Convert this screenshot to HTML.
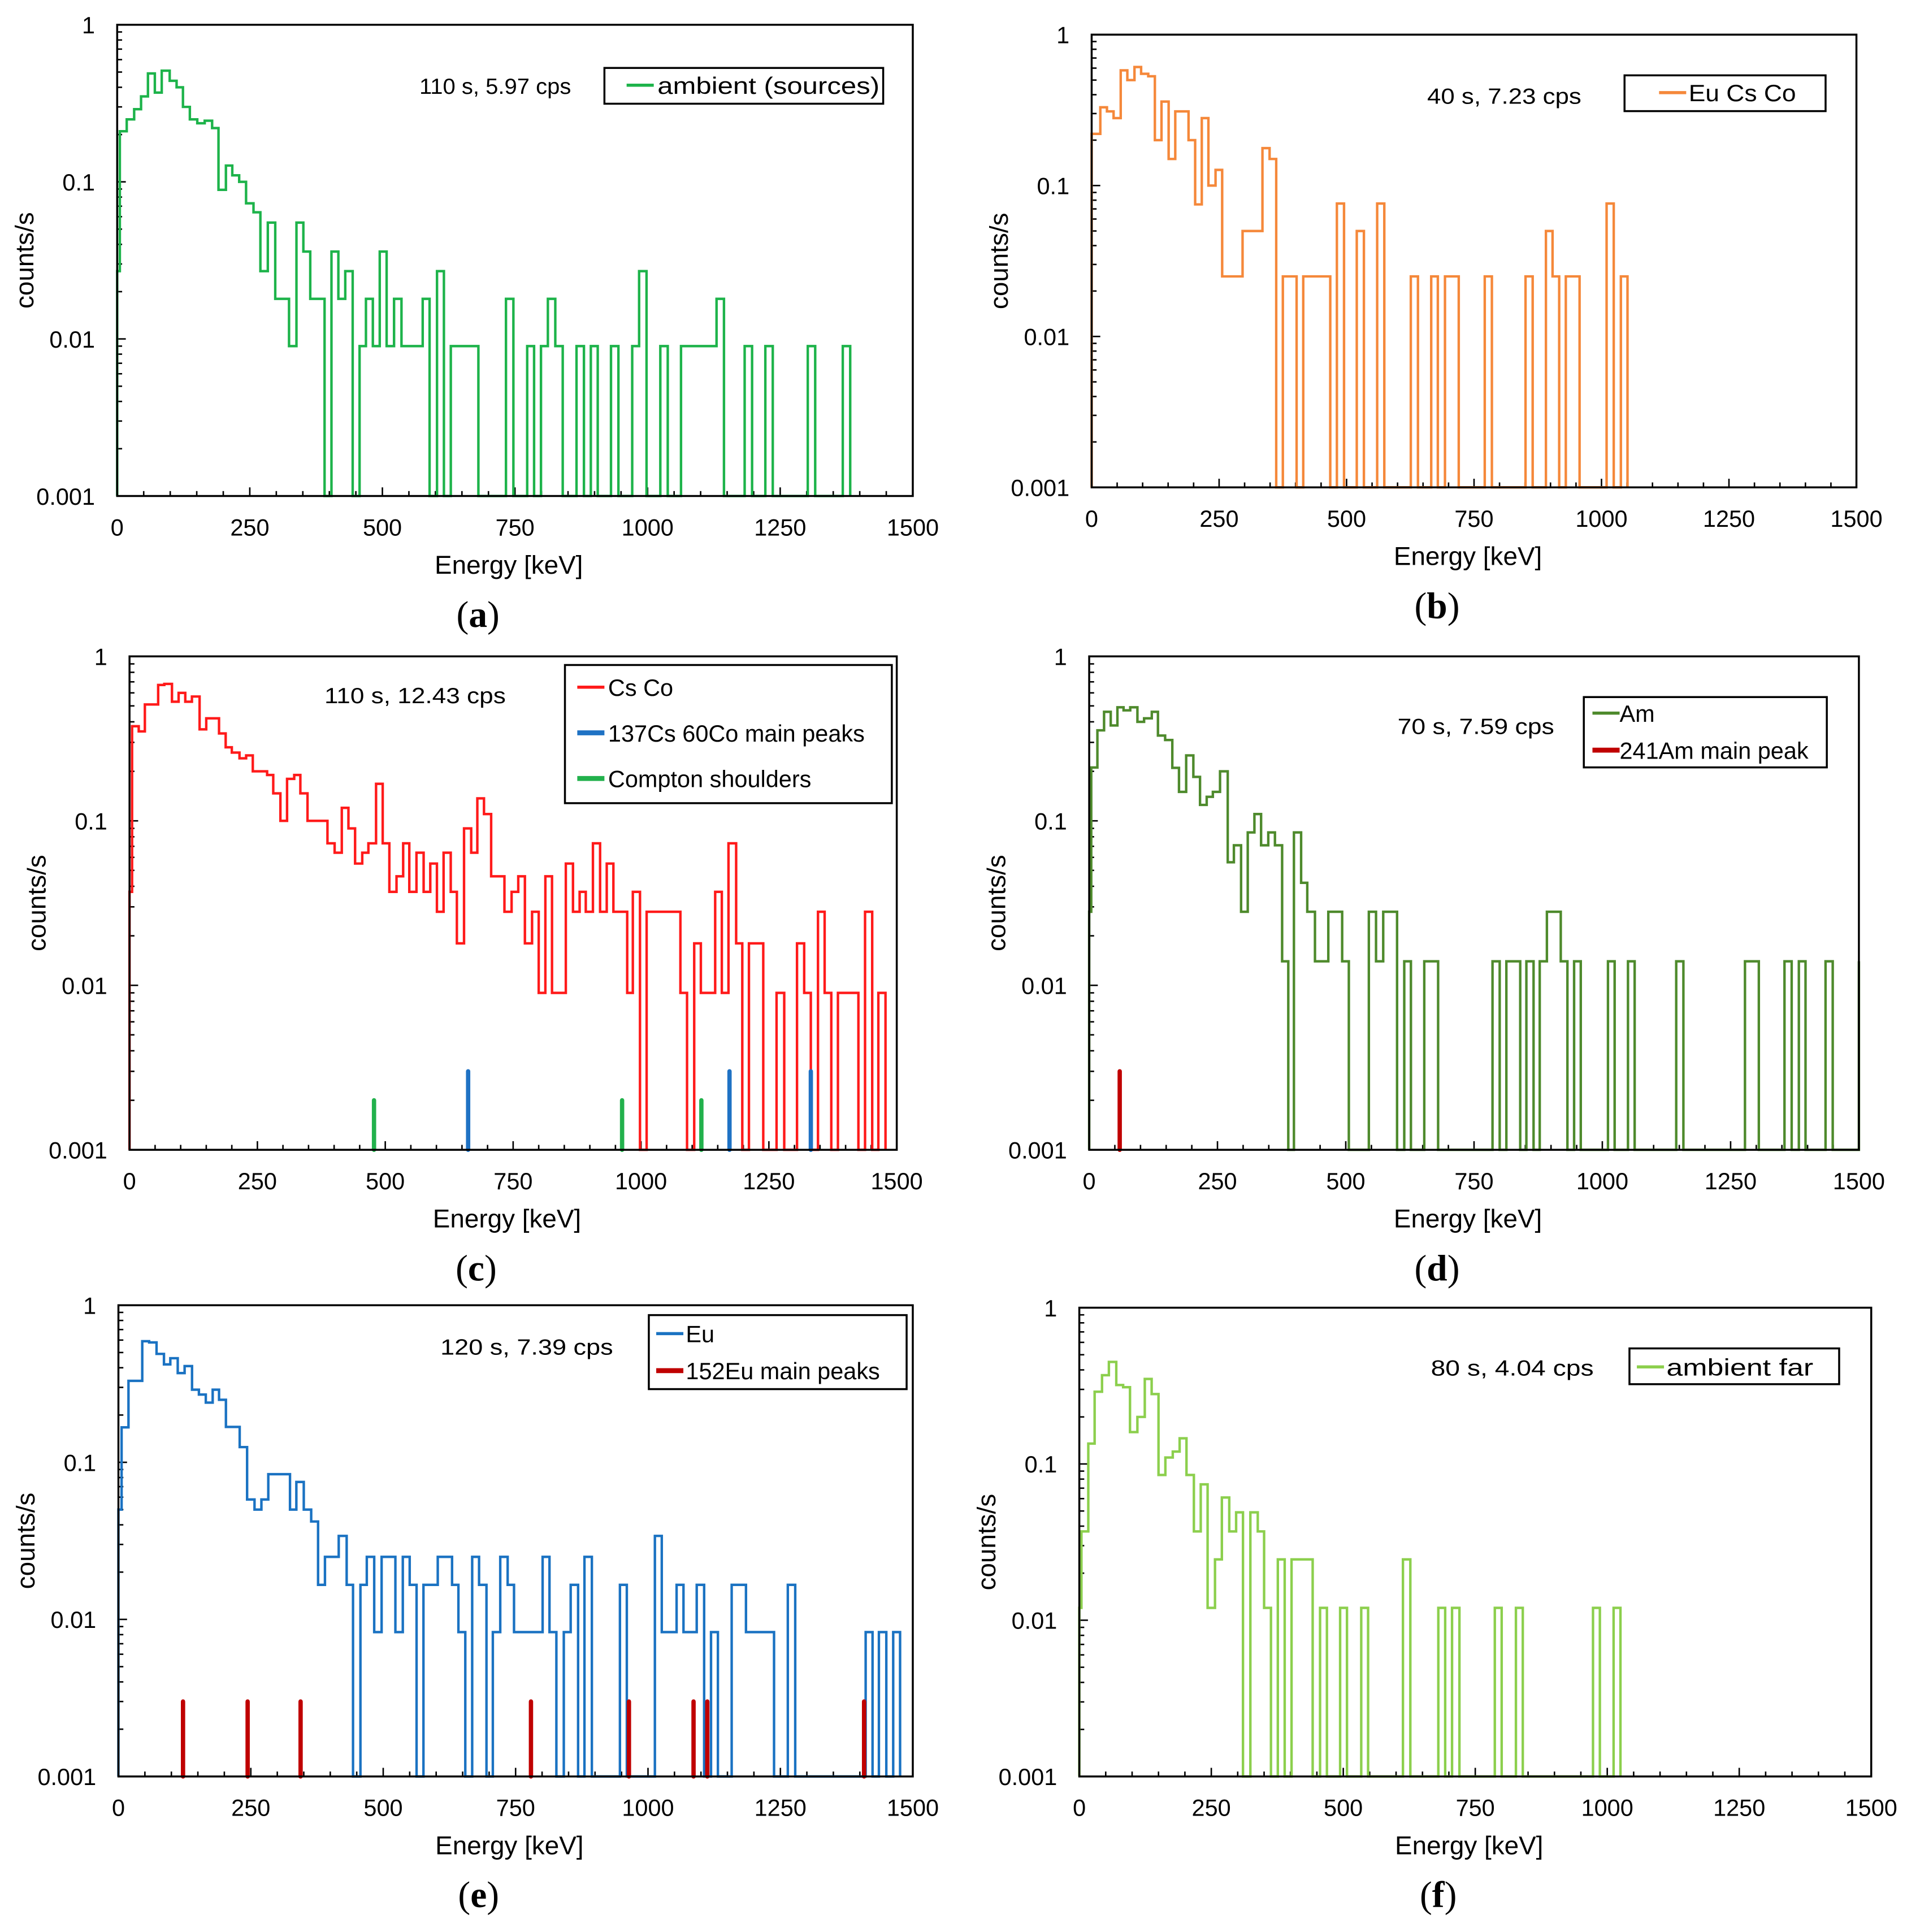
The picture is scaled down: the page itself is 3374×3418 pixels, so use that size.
<!DOCTYPE html>
<html><head><meta charset="utf-8">
<style>
html,body{margin:0;padding:0;background:#fff;}
svg{display:block;}
text{font-family:"Liberation Sans",sans-serif;fill:#000;}
</style></head>
<body>
<svg id="fig" xmlns="http://www.w3.org/2000/svg" width="3374" height="3418" viewBox="0 0 1546 1566">
<rect x="0" y="0" width="1546" height="1566" fill="#fff"/>
</svg>
<script>
// ---- data (energy bin edges in keV, counts/s per bin; 0 = no counts) ----
const xTicks = [0, 250, 500, 750, 1000, 1250, 1500];
const yTicks = [1, 0.1, 0.01, 0.001];
const yTickLabels = ["1", "0.1", "0.01", "0.001"];

const edgesA = [0,5,18,32,45,58,71,84,99,112,124,137,151,165,179,191,205,217,230,243,257,270,284,298,324,338,351,364,391,404,417,430,444,457,469,482,495,508,522,536,576,589,603,616,629,681,733,747,773,786,799,812,826,840,866,880,893,906,931,945,971,984,998,1024,1038,1063,1130,1144,1183,1197,1222,1236,1302,1316,1368,1382];
const valsA = [0.027,0.21,0.25,0.29,0.35,0.49,0.37,0.51,0.44,0.40,0.30,0.25,0.236,0.245,0.22,0.089,0.127,0.11,0.1,0.073,0.064,0.027,0.055,0.018,0.009,0.055,0.036,0.018,0,0.036,0.018,0.027,0,0.009,0.018,0.009,0.036,0.009,0.018,0.009,0.018,0,0.027,0,0.009,0,0.018,0,0.009,0,0.009,0.018,0.009,0,0.009,0,0.009,0,0.009,0,0.009,0.027,0,0.009,0,0.009,0.018,0,0.009,0,0.009,0,0.009,0,0.009];

const edgesB = [0,3,17,30,43,57,70,84,97,111,124,137,151,164,190,203,216,229,243,256,296,335,349,362,375,402,415,468,481,495,520,534,560,574,626,640,666,679,693,720,771,785,851,865,891,904,917,930,957,1010,1024,1038,1051];
const valsB = [0.22,0.22,0.33,0.31,0.28,0.58,0.50,0.61,0.55,0.53,0.2,0.36,0.15,0.31,0.2,0.075,0.28,0.1,0.127,0.025,0.05,0.177,0.15,0,0.025,0,0.025,0,0.076,0,0.05,0,0.076,0,0.025,0,0.025,0,0.025,0,0.025,0,0.025,0,0.05,0.025,0,0.025,0,0.076,0,0.025];

const edgesC = [0,5,18,30,56,68,83,96,109,122,137,150,175,188,200,215,228,241,269,281,295,308,322,334,348,387,401,415,428,441,455,467,482,495,508,522,535,547,561,575,588,601,614,628,640,654,668,680,693,707,733,747,760,773,787,800,813,826,853,867,880,892,906,920,933,946,973,984,998,1011,1077,1090,1104,1117,1145,1158,1171,1186,1198,1211,1239,1265,1280,1305,1319,1332,1346,1359,1372,1385,1425,1438,1452,1464,1478];
const valsC = [0.037,0.376,0.35,0.51,0.67,0.68,0.53,0.6,0.53,0.57,0.36,0.42,0.34,0.28,0.26,0.24,0.25,0.2,0.19,0.147,0.1,0.18,0.19,0.147,0.1,0.073,0.064,0.12,0.09,0.055,0.064,0.073,0.168,0.073,0.037,0.046,0.073,0.037,0.064,0.037,0.055,0.028,0.064,0.037,0.018,0.09,0.064,0.137,0.11,0.046,0.028,0.037,0.046,0.018,0.028,0.009,0.046,0.009,0.055,0.028,0.037,0.028,0.073,0.028,0.055,0.028,0.009,0.037,0,0.028,0.009,0,0.018,0.009,0.037,0.009,0.073,0.018,0,0.018,0,0.009,0,0.018,0.009,0,0.028,0.009,0,0.009,0,0.028,0,0.009];
const peaksCsCo = [662, 1173, 1332];
const peaksCsCoHeight = 0.003;
const comptonC = [478, 963, 1118];
const comptonHeight = 0.002;

const edgesD = [0,4,16,29,42,55,67,80,94,107,122,134,148,162,175,189,203,216,229,241,255,270,282,296,309,322,335,349,362,376,388,399,413,425,440,466,493,506,545,559,573,600,614,627,653,680,786,800,813,840,852,866,878,892,919,932,945,958,1011,1024,1050,1063,1144,1158,1278,1305,1355,1369,1383,1396,1435,1449,1500,1500];
const valsD = [0.028,0.211,0.355,0.46,0.38,0.49,0.47,0.49,0.40,0.42,0.46,0.33,0.31,0.21,0.15,0.25,0.185,0.125,0.14,0.15,0.2,0.056,0.071,0.028,0.085,0.11,0.071,0.085,0.071,0.014,0,0.085,0.042,0.028,0.014,0.028,0.014,0,0.028,0.014,0.028,0,0.014,0,0.014,0,0.014,0,0.014,0,0.014,0,0.014,0.028,0.014,0,0.014,0,0.014,0,0.014,0,0.014,0,0.014,0,0.014,0,0.014,0,0.014,0,0.014];
const peaksAm = [59.5];
const peaksAmHeight = 0.003;

const edgesE = [0,6,19,33,45,58,72,86,98,112,125,139,152,165,178,190,203,229,243,257,270,283,324,336,350,364,377,390,416,431,443,457,469,483,497,523,537,550,563,576,603,630,642,655,668,681,695,707,721,735,747,801,814,827,841,854,868,880,894,947,960,1013,1026,1054,1067,1092,1106,1119,1132,1158,1185,1238,1264,1278,1411,1424,1436,1450,1463,1476];
const valsE = [0.05,0.167,0.33,0.33,0.59,0.58,0.49,0.42,0.46,0.37,0.41,0.29,0.27,0.24,0.29,0.25,0.168,0.125,0.058,0.05,0.058,0.084,0.05,0.075,0.05,0.042,0.0166,0.025,0.034,0.0166,0,0.0166,0.025,0.0083,0.025,0.0083,0.025,0.0166,0,0.0166,0.025,0.0166,0.0083,0,0.025,0.0166,0,0.0083,0.025,0.0166,0.0083,0.025,0.0083,0,0.0083,0.0166,0,0.025,0,0.0166,0,0.034,0.0083,0.0166,0.0083,0.0166,0,0.0083,0,0.0166,0.0083,0,0.0166,0,0.0083,0,0.0083,0,0.0083];
const peaksEu = [122, 244, 344, 779, 964, 1086, 1112, 1408];
const peaksEuHeight = 0.003;

const edgesF = [0,4,17,29,43,56,70,83,96,110,124,137,150,163,177,190,203,217,230,243,257,270,284,297,310,324,338,350,363,376,389,402,442,456,469,494,507,534,547,613,627,680,693,706,720,787,800,827,840,973,986,1012,1025];
const valsF = [0.012,0.037,0.135,0.29,0.37,0.45,0.32,0.31,0.16,0.2,0.35,0.28,0.085,0.11,0.12,0.146,0.085,0.037,0.074,0.012,0.0245,0.061,0.037,0.049,0,0.049,0.037,0.012,0,0.0245,0,0.0245,0,0.012,0,0.012,0,0.012,0,0.0245,0,0.012,0,0.012,0,0.012,0,0.012,0,0.012,0,0.012];

// ---- rendering ----
const NS = "http://www.w3.org/2000/svg";
const svg = document.getElementById("fig");
function mk(tag, attrs, parent) {
  const e = document.createElementNS(NS, tag);
  for (const k in attrs) e.setAttribute(k, attrs[k]);
  (parent || svg).appendChild(e);
  return e;
}

const panels = [
  {id:"a", x0:95, x1:740, y0:20, y1:402, edges:edgesA, vals:valsA, color:"#1db34a", annot:"110 s, 5.97 cps", ax:340, aw:123, ay:76,
   legend:{x:490,y:55,w:226,h:29, items:[{t:"ambient (sources)", c:"#1db34a", y:69, lw:2.5}], lx:508, tx:533, tw:180}},
  {id:"b", x0:885, x1:1505, y0:28, y1:395, edges:edgesB, vals:valsB, color:"#f5883a", annot:"40 s, 7.23 cps", ax:1157, aw:125, ay:84,
   legend:{x:1317,y:61,w:163,h:29, items:[{t:"Eu Cs Co", c:"#f5883a", y:75, lw:2.5}], lx:1345, tx:1369, tw:87}},
  {id:"c", x0:105, x1:727, y0:532, y1:932, edges:edgesC, vals:valsC, color:"#ff1a1a", annot:"110 s, 12.43 cps", ax:263, aw:147, ay:570,
   legend:{x:458,y:539,w:265,h:112, items:[{t:"Cs Co", c:"#ff1a1a", y:557, lw:2.5},{t:"137Cs 60Co main peaks", c:"#1f72c4", y:594, lw:4},{t:"Compton shoulders", c:"#22b14c", y:631, lw:4}], lx:468, tx:493},
   markers:[{e:peaksCsCo, h:peaksCsCoHeight, c:"#1f72c4"},{e:comptonC, h:comptonHeight, c:"#22b14c"}]},
  {id:"d", x0:883, x1:1507, y0:532, y1:932, edges:edgesD, vals:valsD, color:"#4e8a2c", annot:"70 s, 7.59 cps", ax:1133, aw:127, ay:595,
   legend:{x:1284,y:565,w:197,h:57, items:[{t:"Am", c:"#4e8a2c", y:578, lw:2.5},{t:"241Am main peak", c:"#c00000", y:608, lw:4}], lx:1291, tx:1313},
   markers:[{e:peaksAm, h:peaksAmHeight, c:"#c00000"}]},
  {id:"e", x0:96, x1:740, y0:1058, y1:1440, edges:edgesE, vals:valsE, color:"#1a72c2", annot:"120 s, 7.39 cps", ax:357, aw:140, ay:1098,
   legend:{x:526,y:1066,w:209,h:60, items:[{t:"Eu", c:"#1a72c2", y:1081, lw:2.5},{t:"152Eu main peaks", c:"#c00000", y:1111, lw:4}], lx:532, tx:556},
   markers:[{e:peaksEu, h:peaksEuHeight, c:"#c00000"}]},
  {id:"f", x0:875, x1:1517, y0:1060, y1:1440, edges:edgesF, vals:valsF, color:"#8ccf4d", annot:"80 s, 4.04 cps", ax:1160, aw:132, ay:1115,
   legend:{x:1321,y:1093,w:170,h:29, items:[{t:"ambient far", c:"#8ccf4d", y:1108, lw:2.5}], lx:1327, tx:1351, tw:119}}
];

panels.forEach(p => {
  const g = mk("g", {});
  
  
  const xs = e => p.x0 + (Math.min(Math.max(e,0),1500) / 1500) * (p.x1 - p.x0);
  const ys = v => {
    const vv = Math.max(v, 0.001);
    return p.y1 - (Math.log10(vv) + 3) / 3 * (p.y1 - p.y0);
  };

  // minor/major y ticks (inside left)
  for (let d = -3; d < 0; d++) {
    for (let m = 1; m <= 9; m++) {
      const v = m * Math.pow(10, d);
      const y = ys(v);
      const t = mk("line", {x1:p.x0, x2:p.x0 + (m===1?7:4), y1:y, y2:y, stroke:"#000", "stroke-width":1.2}, g);
      
      
    }
  }
  // x ticks (inside bottom)
  for (let e = 0; e <= 1500; e += 50) {
    const x = xs(e);
    const t = mk("line", {x1:x, x2:x, y1:p.y1, y2:p.y1 - (e % 250 === 0 ? 7 : 4), stroke:"#000", "stroke-width":1.2}, g);
    
    
  }

  // histogram path
  let d = "M" + xs(p.edges[0]) + "," + p.y1;
  const n = Math.min(p.vals.length, p.edges.length - 1);
  for (let i = 0; i < n; i++) {
    const y = ys(p.vals[i]);
    d += " L" + xs(p.edges[i]) + "," + y + " L" + xs(p.edges[i+1]) + "," + y;
  }
  d += " L" + xs(p.edges[n]) + "," + p.y1;
  const path = mk("path", {d:d, fill:"none", stroke:p.color, "stroke-width":2, "stroke-linejoin":"miter"}, g);
  
  

  // markers
  (p.markers || []).forEach(mset => {
    mset.e.forEach(en => {
      const x = xs(en);
      const l = mk("line", {x1:x, x2:x, y1:p.y1, y2:ys(mset.h), stroke:mset.c, "stroke-width":3.5, "stroke-linecap":"round"}, g);
      
      
    });
  });

  // frame
  const fr = mk("rect", {x:p.x0, y:p.y0, width:p.x1-p.x0, height:p.y1-p.y0, fill:"none", stroke:"#000", "stroke-width":1.6}, g);
  
  

  // tick labels
  xTicks.forEach(t => {
    const tx = mk("text", {x:xs(t), y:p.y1 + 32, "text-anchor":"middle", "font-size":19}, g);
    tx.textContent = t;
    
    
  });
  yTicks.forEach((t, i) => {
    const ty = mk("text", {x:p.x0 - 18, y:ys(t) + 7, "text-anchor":"end", "font-size":19}, g);
    ty.textContent = yTickLabels[i];
    
    
  });

  // axis titles
  const xt = mk("text", {x:(p.x0+p.x1)/2 - 5, y:p.y1 + 63, "text-anchor":"middle", "font-size":21}, g);
  xt.textContent = "Energy [keV]";
  
  
  const ycx = p.x0 - 68, ycy = (p.y0 + p.y1) / 2;
  const yt = mk("text", {x:ycx, y:ycy, "text-anchor":"middle", "font-size":21, transform:"rotate(-90 " + ycx + " " + ycy + ")"}, g);
  yt.textContent = "counts/s";
  
  

  // annotation
  const an = mk("text", {x:p.ax, y:p.ay, "font-size":18, textLength:p.aw, lengthAdjust:"spacingAndGlyphs"}, g);
  an.textContent = p.annot;
  
  

  // legend
  const L = p.legend;
  const lg = mk("g", {}, g);
  
  
  mk("rect", {x:L.x, y:L.y, width:L.w, height:L.h, fill:"#fff", stroke:"#000", "stroke-width":1.6}, lg);
  L.items.forEach(it => {
    const le = mk("g", {}, lg);
    
    
    mk("line", {x1:L.lx, x2:L.lx + 22, y1:it.y, y2:it.y, stroke:it.c, "stroke-width":it.lw}, le);
    const attrs = {x:L.tx, y:it.y + 7, "font-size":19};
    if (L.tw && L.items.length === 1) { attrs.textLength = L.tw; attrs.lengthAdjust = "spacingAndGlyphs"; }
    const tt = mk("text", attrs, le);
    tt.textContent = it.t;
  });

  // panel label
  const pl = mk("text", {x:(p.x0+p.x1)/2 - 30, y:p.y1 + 106, "text-anchor":"middle", "font-size":30, style:"font-family:'Liberation Serif',serif"}, g);
  pl.innerHTML = "(<tspan font-weight='bold'>" + p.id + "</tspan>)";
  
  
});
</script>
</body></html>
